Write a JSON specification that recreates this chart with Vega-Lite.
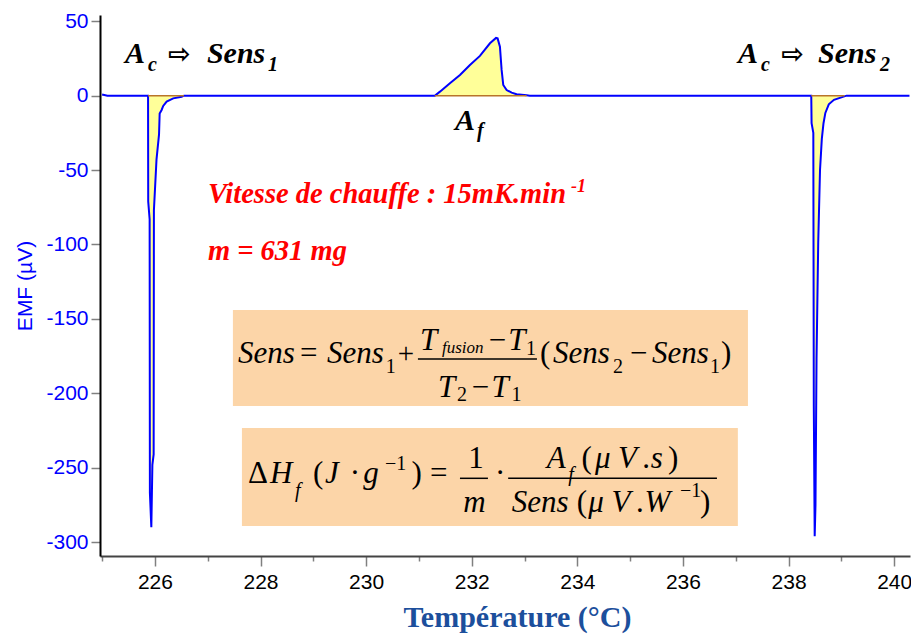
{
  "$schema": "https://vega.github.io/schema/vega-lite/v6.json",
  "width": 810,
  "height": 541,
  "autosize": "none",
  "padding": {"left": 100, "top": 15, "right": 1, "bottom": 80},
  "background": "white",
  "config": {"view": {"stroke": null}},
  "datasets": {
    "curve": [
      {"T": 225.0, "emf": 0.8},
      {"T": 225.1, "emf": 0},
      {"T": 225.87, "emf": 0},
      {"T": 225.873, "emf": -71},
      {"T": 225.9, "emf": -83},
      {"T": 225.905, "emf": -267},
      {"T": 225.932, "emf": -290},
      {"T": 225.952, "emf": -248},
      {"T": 225.976, "emf": -241},
      {"T": 225.981, "emf": -77},
      {"T": 226.03, "emf": -43},
      {"T": 226.078, "emf": -26},
      {"T": 226.09, "emf": -12},
      {"T": 226.127, "emf": -9.6},
      {"T": 226.157, "emf": -6.9},
      {"T": 226.222, "emf": -4.0},
      {"T": 226.347, "emf": -1.8},
      {"T": 226.506, "emf": -0.7},
      {"T": 226.55, "emf": 0},
      {"T": 231.3, "emf": 0},
      {"T": 231.398, "emf": 2.7},
      {"T": 231.587, "emf": 8.3},
      {"T": 231.777, "emf": 13.9},
      {"T": 231.966, "emf": 20.6},
      {"T": 232.155, "emf": 26.7},
      {"T": 232.345, "emf": 35.2},
      {"T": 232.46, "emf": 38.8},
      {"T": 232.49, "emf": 38.5},
      {"T": 232.534, "emf": 32.9},
      {"T": 232.566, "emf": 17.3},
      {"T": 232.597, "emf": 7.2},
      {"T": 232.661, "emf": 3.8},
      {"T": 232.756, "emf": 2.0},
      {"T": 232.85, "emf": 1.0},
      {"T": 233.04, "emf": 0.3},
      {"T": 233.1, "emf": 0},
      {"T": 238.43, "emf": 0},
      {"T": 238.436, "emf": -18.5},
      {"T": 238.469, "emf": -25},
      {"T": 238.478, "emf": -208},
      {"T": 238.495, "emf": -296},
      {"T": 238.51, "emf": -275},
      {"T": 238.53, "emf": -177},
      {"T": 238.562, "emf": -98.4},
      {"T": 238.596, "emf": -49.8},
      {"T": 238.63, "emf": -29},
      {"T": 238.662, "emf": -18.5},
      {"T": 238.697, "emf": -11.6},
      {"T": 238.762, "emf": -5.8},
      {"T": 238.86, "emf": -2.8},
      {"T": 239.057, "emf": -0.5},
      {"T": 239.1, "emf": 0},
      {"T": 240.29, "emf": 0}
    ],
    "baselines": [
      {"T0": 225.87, "T1": 226.55},
      {"T0": 231.3, "T1": 233.04},
      {"T0": 238.43, "T1": 239.06}
    ]
  },
  "data": {"values": [{}]},
  "layer": [
    {
      "data": {"name": "curve"},
      "mark": {"type": "area", "color": "#FFFF99", "opacity": 1},
      "encoding": {
        "x": {
          "field": "T", "type": "quantitative",
          "scale": {"domain": [224.96, 240.3], "nice": false, "zero": false},
          "axis": {
            "title": "Température (°C)",
            "values": [225, 225.5, 226, 226.5, 227, 227.5, 228, 228.5, 229, 229.5, 230, 230.5, 231, 231.5, 232, 232.5, 233, 233.5, 234, 234.5, 235, 235.5, 236, 236.5, 237, 237.5, 238, 238.5, 239, 239.5, 240],
            "labelExpr": "datum.value % 2 === 0 ? toString(datum.value) : ''",
            "tickSize": {"condition": {"test": "datum.value % 2 === 0", "value": 10}, "value": 5},
            "grid": false,
            "domainColor": "#444444", "domainWidth": 2,
            "tickColor": "#808080", "tickWidth": 1.5,
            "labelFont": "Liberation Sans", "labelFontSize": 21, "labelColor": "#000000", "labelPadding": 5,
            "titleFont": "Liberation Serif", "titleFontSize": 30, "titleFontWeight": "bold", "titleColor": "#1C4F9C",
            "titlePadding": 10, "titleX": 417
          }
        },
        "y": {
          "field": "emf", "type": "quantitative",
          "scale": {"domain": [-309.3, 54.2], "nice": false, "zero": false},
          "axis": {
            "title": "EMF (µV)",
            "values": [-300, -275, -250, -225, -200, -175, -150, -125, -100, -75, -50, -25, 0, 25, 50],
            "labelExpr": "datum.value % 50 === 0 ? toString(datum.value) : ''",
            "tickSize": {"condition": {"test": "datum.value % 50 === 0", "value": 9}, "value": 4},
            "grid": false,
            "domainColor": "#000000", "domainWidth": 2,
            "tickColor": "#808080", "tickWidth": 1.5,
            "labelFont": "Liberation Sans", "labelFontSize": 21, "labelColor": "#0000FF", "labelPadding": 3,
            "titleFont": "Liberation Sans", "titleFontSize": 21, "titleFontWeight": "normal", "titleColor": "#0000FF",
            "titlePadding": 10
          }
        },
        "y2": {"datum": 0}
      }
    },
    {
      "data": {"name": "curve"},
      "mark": {"type": "line", "color": "#0000FF", "strokeWidth": 2},
      "encoding": {
        "x": {"field": "T", "type": "quantitative"},
        "y": {"field": "emf", "type": "quantitative"}
      }
    },
    {
      "data": {"name": "baselines"},
      "mark": {"type": "rule", "color": "#B8742A", "strokeWidth": 1.5},
      "encoding": {
        "x": {"field": "T0", "type": "quantitative"},
        "x2": {"field": "T1"},
        "y": {"datum": 0}
      }
    },
    {"mark": {"type": "rect", "color": "#FCD5A8"}, "encoding": {"x": {"datum": 227.477}, "x2": {"datum": 237.231}, "y": {"datum": -144.0}, "y2": {"datum": -208.5}}},
    {"mark": {"type": "rect", "color": "#FCD5A8"}, "encoding": {"x": {"datum": 227.648}, "x2": {"datum": 237.04}, "y": {"datum": -223.3}, "y2": {"datum": -289.2}}},

    {"mark": {"type": "text", "text": "A", "font": "Liberation Serif", "fontSize": 30, "fontWeight": "bold", "fontStyle": "italic", "align": "left", "baseline": "alphabetic", "color": "#000000"}, "encoding": {"x": {"datum": 225.432}, "y": {"datum": 21.8}}},
    {"mark": {"type": "text", "text": "c", "font": "Liberation Serif", "fontSize": 20, "fontWeight": "bold", "fontStyle": "italic", "align": "left", "baseline": "alphabetic", "color": "#000000"}, "encoding": {"x": {"datum": 225.867}, "y": {"datum": 16.8}}},
    {"mark": {"type": "text", "text": "⇨", "font": "DejaVu Sans", "fontSize": 27, "fontWeight": "bold", "align": "left", "baseline": "middle", "color": "#000000"}, "encoding": {"x": {"datum": 226.25}, "y": {"datum": 27.4}}},
    {"mark": {"type": "text", "text": "Sens", "font": "Liberation Serif", "fontSize": 30, "fontWeight": "bold", "fontStyle": "italic", "align": "left", "baseline": "alphabetic", "color": "#000000"}, "encoding": {"x": {"datum": 226.985}, "y": {"datum": 21.8}}},
    {"mark": {"type": "text", "text": "1", "font": "Liberation Serif", "fontSize": 20, "fontWeight": "bold", "fontStyle": "italic", "align": "left", "baseline": "alphabetic", "color": "#000000"}, "encoding": {"x": {"datum": 228.14}, "y": {"datum": 16.8}}},

    {"mark": {"type": "text", "text": "A", "font": "Liberation Serif", "fontSize": 30, "fontWeight": "bold", "fontStyle": "italic", "align": "left", "baseline": "alphabetic", "color": "#000000"}, "encoding": {"x": {"datum": 237.042}, "y": {"datum": 21.8}}},
    {"mark": {"type": "text", "text": "c", "font": "Liberation Serif", "fontSize": 20, "fontWeight": "bold", "fontStyle": "italic", "align": "left", "baseline": "alphabetic", "color": "#000000"}, "encoding": {"x": {"datum": 237.477}, "y": {"datum": 16.8}}},
    {"mark": {"type": "text", "text": "⇨", "font": "DejaVu Sans", "fontSize": 27, "fontWeight": "bold", "align": "left", "baseline": "middle", "color": "#000000"}, "encoding": {"x": {"datum": 237.86}, "y": {"datum": 27.4}}},
    {"mark": {"type": "text", "text": "Sens", "font": "Liberation Serif", "fontSize": 30, "fontWeight": "bold", "fontStyle": "italic", "align": "left", "baseline": "alphabetic", "color": "#000000"}, "encoding": {"x": {"datum": 238.557}, "y": {"datum": 21.8}}},
    {"mark": {"type": "text", "text": "2", "font": "Liberation Serif", "fontSize": 20, "fontWeight": "bold", "fontStyle": "italic", "align": "left", "baseline": "alphabetic", "color": "#000000"}, "encoding": {"x": {"datum": 239.731}, "y": {"datum": 16.8}}},

    {"mark": {"type": "text", "text": "A", "font": "Liberation Serif", "fontSize": 30, "fontWeight": "bold", "fontStyle": "italic", "align": "left", "baseline": "alphabetic", "color": "#000000"}, "encoding": {"x": {"datum": 231.682}, "y": {"datum": -23.1}}},
    {"mark": {"type": "text", "text": "f", "font": "Liberation Serif", "fontSize": 20, "fontWeight": "bold", "fontStyle": "italic", "align": "left", "baseline": "alphabetic", "color": "#000000"}, "encoding": {"x": {"datum": 232.098}, "y": {"datum": -27.8}}},

    {"mark": {"type": "text", "text": "Vitesse de chauffe : 15mK.min", "font": "Liberation Serif", "fontSize": 28.5, "fontWeight": "bold", "fontStyle": "italic", "align": "left", "baseline": "alphabetic", "color": "#FF0000"}, "encoding": {"x": {"datum": 227.004}, "y": {"datum": -72.1}}},
    {"mark": {"type": "text", "text": "-1", "font": "Liberation Serif", "fontSize": 18, "fontWeight": "bold", "fontStyle": "italic", "align": "left", "baseline": "alphabetic", "color": "#FF0000"}, "encoding": {"x": {"datum": 233.879}, "y": {"datum": -64.7}}},
    {"mark": {"type": "text", "text": "m = 631 mg", "font": "Liberation Serif", "fontSize": 28.5, "fontWeight": "bold", "fontStyle": "italic", "align": "left", "baseline": "alphabetic", "color": "#FF0000"}, "encoding": {"x": {"datum": 227.004}, "y": {"datum": -110.4}}},

    {"mark": {"type": "text", "text": "Sens", "font": "Liberation Serif", "fontSize": 31, "fontStyle": "italic", "align": "left", "baseline": "alphabetic", "color": "#000000"}, "encoding": {"x": {"datum": 227.572}, "y": {"datum": -179.6}}},
    {"mark": {"type": "text", "text": "=", "font": "Liberation Serif", "fontSize": 31, "align": "left", "baseline": "alphabetic", "color": "#000000"}, "encoding": {"x": {"datum": 228.746}, "y": {"datum": -179.6}}},
    {"mark": {"type": "text", "text": "Sens", "font": "Liberation Serif", "fontSize": 31, "fontStyle": "italic", "align": "left", "baseline": "alphabetic", "color": "#000000"}, "encoding": {"x": {"datum": 229.258}, "y": {"datum": -179.6}}},
    {"mark": {"type": "text", "text": "1", "font": "Liberation Serif", "fontSize": 20, "align": "left", "baseline": "alphabetic", "color": "#000000"}, "encoding": {"x": {"datum": 230.37}, "y": {"datum": -186.3}}},
    {"mark": {"type": "text", "text": "+", "font": "Liberation Serif", "fontSize": 29, "align": "left", "baseline": "alphabetic", "color": "#000000"}, "encoding": {"x": {"datum": 230.6}, "y": {"datum": -179.6}}},
    {"mark": {"type": "text", "text": "T", "font": "Liberation Serif", "fontSize": 31, "fontStyle": "italic", "align": "left", "baseline": "alphabetic", "color": "#000000"}, "encoding": {"x": {"datum": 231.019}, "y": {"datum": -170.9}}},
    {"mark": {"type": "text", "text": "fusion", "font": "Liberation Serif", "fontSize": 17, "fontStyle": "italic", "align": "left", "baseline": "alphabetic", "color": "#000000"}, "encoding": {"x": {"datum": 231.436}, "y": {"datum": -172.9}}},
    {"mark": {"type": "text", "text": "−", "font": "Liberation Serif", "fontSize": 31, "align": "left", "baseline": "alphabetic", "color": "#000000"}, "encoding": {"x": {"datum": 232.32}, "y": {"datum": -170.9}}},
    {"mark": {"type": "text", "text": "T", "font": "Liberation Serif", "fontSize": 31, "fontStyle": "italic", "align": "left", "baseline": "alphabetic", "color": "#000000"}, "encoding": {"x": {"datum": 232.69}, "y": {"datum": -170.9}}},
    {"mark": {"type": "text", "text": "1", "font": "Liberation Serif", "fontSize": 20, "align": "left", "baseline": "alphabetic", "color": "#000000"}, "encoding": {"x": {"datum": 233.03}, "y": {"datum": -174.3}}},
    {"mark": {"type": "rule", "color": "#000000", "strokeWidth": 1.5}, "encoding": {"x": {"datum": 230.981}, "x2": {"datum": 233.235}, "y": {"datum": -176.9}}},
    {"mark": {"type": "text", "text": "T", "font": "Liberation Serif", "fontSize": 31, "fontStyle": "italic", "align": "left", "baseline": "alphabetic", "color": "#000000"}, "encoding": {"x": {"datum": 231.36}, "y": {"datum": -202.3}}},
    {"mark": {"type": "text", "text": "2", "font": "Liberation Serif", "fontSize": 20, "align": "left", "baseline": "alphabetic", "color": "#000000"}, "encoding": {"x": {"datum": 231.72}, "y": {"datum": -205.2}}},
    {"mark": {"type": "text", "text": "−", "font": "Liberation Serif", "fontSize": 31, "align": "left", "baseline": "alphabetic", "color": "#000000"}, "encoding": {"x": {"datum": 232.0}, "y": {"datum": -202.3}}},
    {"mark": {"type": "text", "text": "T", "font": "Liberation Serif", "fontSize": 31, "fontStyle": "italic", "align": "left", "baseline": "alphabetic", "color": "#000000"}, "encoding": {"x": {"datum": 232.375}, "y": {"datum": -202.3}}},
    {"mark": {"type": "text", "text": "1", "font": "Liberation Serif", "fontSize": 20, "align": "left", "baseline": "alphabetic", "color": "#000000"}, "encoding": {"x": {"datum": 232.755}, "y": {"datum": -205.2}}},
    {"mark": {"type": "text", "text": "(", "font": "Liberation Serif", "fontSize": 31, "align": "left", "baseline": "alphabetic", "color": "#000000"}, "encoding": {"x": {"datum": 233.292}, "y": {"datum": -179.6}}},
    {"mark": {"type": "text", "text": "Sens", "font": "Liberation Serif", "fontSize": 31, "fontStyle": "italic", "align": "left", "baseline": "alphabetic", "color": "#000000"}, "encoding": {"x": {"datum": 233.538}, "y": {"datum": -179.6}}},
    {"mark": {"type": "text", "text": "2", "font": "Liberation Serif", "fontSize": 20, "align": "left", "baseline": "alphabetic", "color": "#000000"}, "encoding": {"x": {"datum": 234.674}, "y": {"datum": -186.3}}},
    {"mark": {"type": "text", "text": "−", "font": "Liberation Serif", "fontSize": 31, "align": "left", "baseline": "alphabetic", "color": "#000000"}, "encoding": {"x": {"datum": 234.996}, "y": {"datum": -179.6}}},
    {"mark": {"type": "text", "text": "Sens", "font": "Liberation Serif", "fontSize": 31, "fontStyle": "italic", "align": "left", "baseline": "alphabetic", "color": "#000000"}, "encoding": {"x": {"datum": 235.413}, "y": {"datum": -179.6}}},
    {"mark": {"type": "text", "text": "1", "font": "Liberation Serif", "fontSize": 20, "align": "left", "baseline": "alphabetic", "color": "#000000"}, "encoding": {"x": {"datum": 236.511}, "y": {"datum": -186.3}}},
    {"mark": {"type": "text", "text": ")", "font": "Liberation Serif", "fontSize": 31, "align": "left", "baseline": "alphabetic", "color": "#000000"}, "encoding": {"x": {"datum": 236.72}, "y": {"datum": -179.6}}},

    {"mark": {"type": "text", "text": "Δ", "font": "Liberation Serif", "fontSize": 31, "align": "left", "baseline": "alphabetic", "color": "#000000"}, "encoding": {"x": {"datum": 227.761}, "y": {"datum": -260.3}}},
    {"mark": {"type": "text", "text": "H", "font": "Liberation Serif", "fontSize": 31, "fontStyle": "italic", "align": "left", "baseline": "alphabetic", "color": "#000000"}, "encoding": {"x": {"datum": 228.178}, "y": {"datum": -260.3}}},
    {"mark": {"type": "text", "text": "f", "font": "Liberation Serif", "fontSize": 20, "fontStyle": "italic", "align": "left", "baseline": "alphabetic", "color": "#000000"}, "encoding": {"x": {"datum": 228.652}, "y": {"datum": -269.5}}},
    {"mark": {"type": "text", "text": "(", "font": "Liberation Serif", "fontSize": 31, "align": "left", "baseline": "alphabetic", "color": "#000000"}, "encoding": {"x": {"datum": 228.992}, "y": {"datum": -260.3}}},
    {"mark": {"type": "text", "text": "J", "font": "Liberation Serif", "fontSize": 31, "fontStyle": "italic", "align": "left", "baseline": "alphabetic", "color": "#000000"}, "encoding": {"x": {"datum": 229.22}, "y": {"datum": -260.3}}},
    {"mark": {"type": "text", "text": "·", "font": "Liberation Serif", "fontSize": 31, "align": "left", "baseline": "alphabetic", "color": "#000000"}, "encoding": {"x": {"datum": 229.69}, "y": {"datum": -260.3}}},
    {"mark": {"type": "text", "text": "g", "font": "Liberation Serif", "fontSize": 31, "fontStyle": "italic", "align": "left", "baseline": "alphabetic", "color": "#000000"}, "encoding": {"x": {"datum": 229.945}, "y": {"datum": -260.3}}},
    {"mark": {"type": "text", "text": "−1", "font": "Liberation Serif", "fontSize": 20, "align": "left", "baseline": "alphabetic", "color": "#000000"}, "encoding": {"x": {"datum": 230.356}, "y": {"datum": -251.5}}},
    {"mark": {"type": "text", "text": ")", "font": "Liberation Serif", "fontSize": 31, "align": "left", "baseline": "alphabetic", "color": "#000000"}, "encoding": {"x": {"datum": 230.86}, "y": {"datum": -260.3}}},
    {"mark": {"type": "text", "text": "=", "font": "Liberation Serif", "fontSize": 31, "align": "left", "baseline": "alphabetic", "color": "#000000"}, "encoding": {"x": {"datum": 231.208}, "y": {"datum": -260.3}}},
    {"mark": {"type": "text", "text": "1", "font": "Liberation Serif", "fontSize": 31, "align": "left", "baseline": "alphabetic", "color": "#000000"}, "encoding": {"x": {"datum": 231.934}, "y": {"datum": -250.4}}},
    {"mark": {"type": "rule", "color": "#000000", "strokeWidth": 1.5}, "encoding": {"x": {"datum": 231.777}, "x2": {"datum": 232.307}, "y": {"datum": -257.1}}},
    {"mark": {"type": "text", "text": "m", "font": "Liberation Serif", "fontSize": 31, "fontStyle": "italic", "align": "left", "baseline": "alphabetic", "color": "#000000"}, "encoding": {"x": {"datum": 231.839}, "y": {"datum": -279.6}}},
    {"mark": {"type": "text", "text": "·", "font": "Liberation Serif", "fontSize": 31, "align": "left", "baseline": "alphabetic", "color": "#000000"}, "encoding": {"x": {"datum": 232.439}, "y": {"datum": -260.3}}},
    {"mark": {"type": "rule", "color": "#000000", "strokeWidth": 1.5}, "encoding": {"x": {"datum": 232.69}, "x2": {"datum": 236.644}, "y": {"datum": -257.1}}},
    {"mark": {"type": "text", "text": "A", "font": "Liberation Serif", "fontSize": 31, "fontStyle": "italic", "align": "left", "baseline": "alphabetic", "color": "#000000"}, "encoding": {"x": {"datum": 233.42}, "y": {"datum": -250.4}}},
    {"mark": {"type": "text", "text": "f", "font": "Liberation Serif", "fontSize": 20, "fontStyle": "italic", "align": "left", "baseline": "alphabetic", "color": "#000000"}, "encoding": {"x": {"datum": 233.828}, "y": {"datum": -258.9}}},
    {"mark": {"type": "text", "text": "(", "font": "Liberation Serif", "fontSize": 31, "align": "left", "baseline": "alphabetic", "color": "#000000"}, "encoding": {"x": {"datum": 234.081}, "y": {"datum": -250.4}}},
    {"mark": {"type": "text", "text": "μ", "font": "Liberation Serif", "fontSize": 31, "fontStyle": "italic", "align": "left", "baseline": "alphabetic", "color": "#000000"}, "encoding": {"x": {"datum": 234.333}, "y": {"datum": -250.4}}},
    {"mark": {"type": "text", "text": "V", "font": "Liberation Serif", "fontSize": 31, "fontStyle": "italic", "align": "left", "baseline": "alphabetic", "color": "#000000"}, "encoding": {"x": {"datum": 234.769}, "y": {"datum": -250.4}}},
    {"mark": {"type": "text", "text": ".s", "font": "Liberation Serif", "fontSize": 31, "fontStyle": "italic", "align": "left", "baseline": "alphabetic", "color": "#000000"}, "encoding": {"x": {"datum": 235.242}, "y": {"datum": -250.4}}},
    {"mark": {"type": "text", "text": ")", "font": "Liberation Serif", "fontSize": 31, "align": "left", "baseline": "alphabetic", "color": "#000000"}, "encoding": {"x": {"datum": 235.716}, "y": {"datum": -250.4}}},
    {"mark": {"type": "text", "text": "Sens", "font": "Liberation Serif", "fontSize": 31, "fontStyle": "italic", "align": "left", "baseline": "alphabetic", "color": "#000000"}, "encoding": {"x": {"datum": 232.756}, "y": {"datum": -279.6}}},
    {"mark": {"type": "text", "text": "(", "font": "Liberation Serif", "fontSize": 31, "align": "left", "baseline": "alphabetic", "color": "#000000"}, "encoding": {"x": {"datum": 233.987}, "y": {"datum": -279.6}}},
    {"mark": {"type": "text", "text": "μ", "font": "Liberation Serif", "fontSize": 31, "fontStyle": "italic", "align": "left", "baseline": "alphabetic", "color": "#000000"}, "encoding": {"x": {"datum": 234.207}, "y": {"datum": -279.6}}},
    {"mark": {"type": "text", "text": "V", "font": "Liberation Serif", "fontSize": 31, "fontStyle": "italic", "align": "left", "baseline": "alphabetic", "color": "#000000"}, "encoding": {"x": {"datum": 234.646}, "y": {"datum": -279.6}}},
    {"mark": {"type": "text", "text": ".W", "font": "Liberation Serif", "fontSize": 31, "fontStyle": "italic", "align": "left", "baseline": "alphabetic", "color": "#000000"}, "encoding": {"x": {"datum": 235.125}, "y": {"datum": -279.6}}},
    {"mark": {"type": "text", "text": "−1", "font": "Liberation Serif", "fontSize": 20, "align": "left", "baseline": "alphabetic", "color": "#000000"}, "encoding": {"x": {"datum": 235.943}, "y": {"datum": -269.5}}},
    {"mark": {"type": "text", "text": ")", "font": "Liberation Serif", "fontSize": 31, "align": "left", "baseline": "alphabetic", "color": "#000000"}, "encoding": {"x": {"datum": 236.322}, "y": {"datum": -279.6}}}
  ]
}
